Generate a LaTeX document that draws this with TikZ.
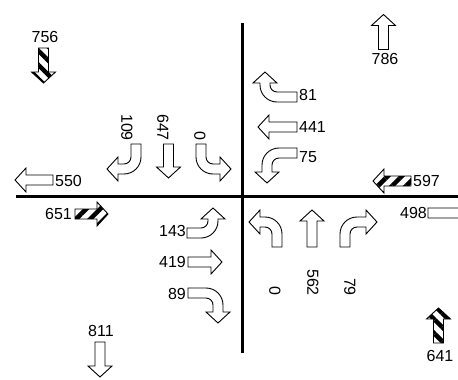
\documentclass[tikz,border=0pt]{standalone}
\usepackage{fontspec}
\setmainfont{Liberation Sans}
\usetikzlibrary{patterns.meta}
\newcommand\strarrow[2]{%
  \path[#1] (0,-5) -- ({#2-11},-5) -- ({#2-11},-12) -- (#2,0) -- ({#2-11},12) -- ({#2-11},5) -- (0,5) -- cycle;}
\newcommand\trnarrow[3]{%
  \path[#1] (0,-5) -- ({#2-12},-5) .. controls ({#2-2.61},-5) and ({#2+5},2.61) .. ({#2+5},12)
    -- ({#2+5},{#3-11}) -- ({#2+12},{#3-11}) -- (#2,#3) -- ({#2-12},{#3-11}) -- ({#2-5},{#3-11})
    -- ({#2-5},12) .. controls ({#2-5},8.13) and ({#2-8.13},5) .. ({#2-12},5) -- (0,5) -- cycle;}
\tikzset{
  plainarr/.style={draw=black, line width=0.9pt, fill=white, line join=miter},
  hatcharr/.style={draw=black, line width=0.9pt, line join=miter, pattern={Lines[angle=45,distance=10pt,line width=4.5pt]}},
  hatcharrv/.style={draw=black, line width=0.9pt, line join=miter, pattern={Lines[angle=-45,distance=10pt,line width=4.5pt]}},
  lbl/.style={font=\fontsize{16}{19}\selectfont, inner sep=0pt},
  vlbl/.style={lbl, rotate=-90, anchor=east},
  road/.style={line width=3pt}
}
\begin{document}
\begin{tikzpicture}[x=1pt,y=-1pt]
\useasboundingbox (0,0) rectangle (458,380);
\clip (0,0) rectangle (458,380);
% roads
\coordinate (vt) at (242,23);
\coordinate (vb) at (242,353);
\coordinate (hl) at (16,196);
\coordinate (hr) at (460,196);
\draw[road] (vt) -- (vb);
\draw[road] (hl) -- (hr);
% outer straight arrows
\begin{scope}[shift={(43.5,48)},rotate=-90]\strarrow{hatcharrv}{35}\end{scope}
\begin{scope}[shift={(383.5,49.5)},rotate=90]\strarrow{plainarr}{35}\end{scope}
\begin{scope}[shift={(53,180)},rotate=180]\strarrow{plainarr}{38}\end{scope}
\begin{scope}[shift={(75,214)}]\strarrow{hatcharr}{33}\end{scope}
\begin{scope}[shift={(411,181)},rotate=180]\strarrow{hatcharr}{38}\end{scope}
\begin{scope}[shift={(428,213)}]\strarrow{plainarr}{46}\end{scope}
\begin{scope}[shift={(100,342)},rotate=-90]\strarrow{plainarr}{35}\end{scope}
\begin{scope}[shift={(438.5,343)},rotate=90]\strarrow{hatcharrv}{35}\end{scope}
% inner straight arrows
\begin{scope}[shift={(168.5,144)},rotate=-90]\strarrow{plainarr}{34}\end{scope}
\begin{scope}[shift={(297,127)},rotate=180]\strarrow{plainarr}{39}\end{scope}
\begin{scope}[shift={(188,262)}]\strarrow{plainarr}{34}\end{scope}
\begin{scope}[shift={(312,247)},rotate=90]\strarrow{plainarr}{37}\end{scope}
% turning arrows
\begin{scope}[shift={(136,144)},rotate=-90]\trnarrow{plainarr}{25}{29}\end{scope}
\begin{scope}[shift={(201,144)},rotate=-90,yscale=-1]\trnarrow{plainarr}{25}{30}\end{scope}
\begin{scope}[shift={(297,97)},rotate=180]\trnarrow{plainarr}{32}{25}\end{scope}
\begin{scope}[shift={(297,153)},rotate=180,yscale=-1]\trnarrow{plainarr}{30}{30}\end{scope}
\begin{scope}[shift={(187,233)},yscale=-1]\trnarrow{plainarr}{26}{25}\end{scope}
\begin{scope}[shift={(188,293)}]\trnarrow{plainarr}{30}{30}\end{scope}
\begin{scope}[shift={(277,247)},rotate=90,yscale=-1]\trnarrow{plainarr}{25}{28}\end{scope}
\begin{scope}[shift={(345,247)},rotate=90]\trnarrow{plainarr}{25}{32}\end{scope}
% labels
\node[lbl] (l756) at (45,37) {756};
\node[lbl] (l786) at (385,59) {786};
\node[lbl,anchor=west] (l550) at (55,181) {550};
\node[lbl,anchor=east] (l651) at (72,214) {651};
\node[lbl,anchor=west] (l597) at (413,181) {597};
\node[lbl,anchor=east] (l498) at (427,213) {498};
\node[lbl] (l811) at (101,331) {811};
\node[lbl] (l641) at (440,356) {641};
\node[lbl,anchor=west] (l81) at (299,95) {81};
\node[lbl,anchor=west] (l441) at (299,127) {441};
\node[lbl,anchor=west] (l75) at (299,157) {75};
\node[lbl,anchor=east] (l143) at (186,231) {143};
\node[lbl,anchor=east] (l419) at (186,262) {419};
\node[lbl,anchor=east] (l89) at (186,294) {89};
\node[vlbl] (l109) at (127,141) {109};
\node[vlbl] (l647) at (163,141) {647};
\node[vlbl] (l0a) at (200,141) {0};
\node[vlbl] (l0b) at (275,296) {0};
\node[vlbl] (l562) at (313,296) {562};
\node[vlbl] (l79) at (350,296) {79};
\end{tikzpicture}
\end{document}
